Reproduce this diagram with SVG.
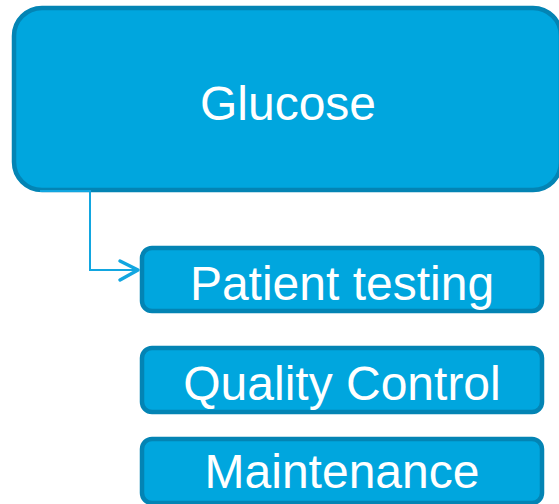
<svg xmlns="http://www.w3.org/2000/svg" width="559" height="504" viewBox="0 0 559 504">
  <style>
    .box { fill: #00a6de; stroke: #0384b4; stroke-width: 4.5; }
    .lbl { fill: #ffffff; font-family: "Liberation Sans", Arial, Helvetica, sans-serif; font-size: 48px; text-anchor: middle; }
    .conn { fill: none; stroke: #12a6e0; stroke-width: 2; }
    .arrow { fill: none; stroke: #12a6e0; stroke-width: 3.5; stroke-linecap: round; stroke-linejoin: round; }
  </style>
  <rect width="559" height="504" fill="#ffffff"/>
  <g id="glucose">
    <rect class="box" x="14" y="8" width="547" height="182" rx="28" ry="28"/>
    <text class="lbl" x="288" y="120">Glucose</text>
  </g>
  <g id="patient-testing">
    <rect class="box" x="142" y="248" width="400" height="63" rx="10" ry="10"/>
    <text class="lbl" x="342" y="300">Patient testing</text>
  </g>
  <g id="quality-control">
    <rect class="box" x="142" y="348" width="400" height="64" rx="10" ry="10"/>
    <text class="lbl" x="342" y="400">Quality Control</text>
  </g>
  <g id="maintenance">
    <rect class="box" x="142" y="439" width="400" height="64" rx="10" ry="10"/>
    <text class="lbl" x="342" y="488">Maintenance</text>
  </g>
  <g id="connectors">
    <polyline class="conn" points="40,191 90,191 90,270 137,270"/>
    <polyline class="arrow" points="120,261 138,270 120,280"/>
  </g>
</svg>
